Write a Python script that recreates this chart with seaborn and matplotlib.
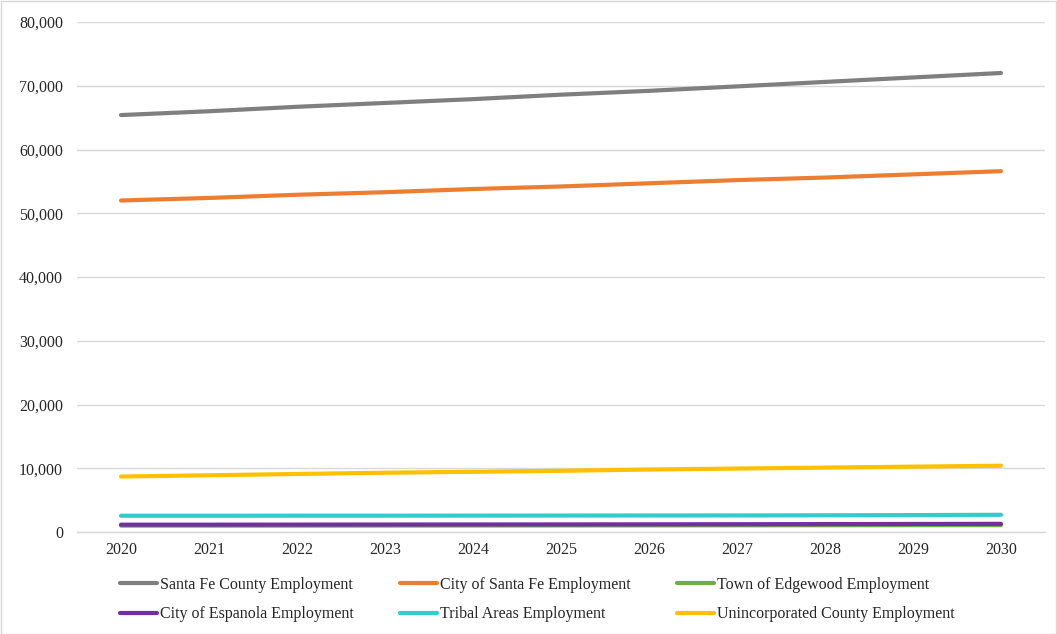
import matplotlib
matplotlib.use("Agg")
import matplotlib.pyplot as plt
import seaborn as sns
import pandas as pd
from matplotlib.patches import Rectangle

years = [2020, 2021, 2022, 2023, 2024, 2025, 2026, 2027, 2028, 2029, 2030]
santa_fe_county = [65400, 66000, 66700, 67300, 67900, 68600, 69200, 69900, 70600, 71300, 72000]
city_santa_fe = [52000, 52400, 52900, 53300, 53800, 54200, 54700, 55200, 55600, 56100, 56600]
edgewood = [1000, 1000, 1000, 1010, 1020, 1030, 1040, 1050, 1060, 1070, 1080]
espanola = [1150, 1150, 1160, 1170, 1180, 1190, 1200, 1220, 1240, 1260, 1280]
tribal = [2550, 2550, 2560, 2560, 2570, 2580, 2590, 2600, 2620, 2650, 2700]
unincorporated = [8700, 8900, 9100, 9300, 9450, 9600, 9800, 9950, 10100, 10250, 10400]

series_names = [
    "Santa Fe County Employment",
    "City of Santa Fe Employment",
    "Town of Edgewood Employment",
    "City of Espanola Employment",
    "Tribal Areas Employment",
    "Unincorporated County Employment",
]
series_values = [santa_fe_county, city_santa_fe, edgewood, espanola, tribal, unincorporated]
colors = ["#7f7f7f", "#ed7d31", "#70ad47", "#7030a0", "#33cccc", "#ffc000"]

rows = []
for name, vals in zip(series_names, series_values):
    for i, (yr, v) in enumerate(zip(years, vals)):
        rows.append({"idx": i, "year": str(yr), "value": v, "series": name})
df = pd.DataFrame(rows)

sns.set_theme(style="white")
plt.rcParams["font.family"] = ["Liberation Serif", "DejaVu Serif"]

fig = plt.figure(figsize=(10.57, 6.34), dpi=100)
ax = fig.add_axes([77/1057, 1-532/634, (1045-77)/1057, (532-22)/634])

sns.lineplot(data=df, x="idx", y="value", hue="series", hue_order=series_names,
             palette=colors, linewidth=3.0, ax=ax, legend=True, solid_capstyle="round")

ax.set_xlim(-0.5, len(years) - 0.5)
ax.set_ylim(0, 80000)
ax.set_yticks(range(0, 80001, 10000))
ax.set_yticklabels([f"{v:,}" for v in range(0, 80001, 10000)])
ax.set_xticks(range(len(years)))
ax.set_xticklabels([str(y) for y in years])
ax.set_xlabel("")
ax.set_ylabel("")
ax.grid(axis="y", color="#d9d9d9", linewidth=1.0)
ax.grid(axis="x", visible=False)
for s in ["top", "left", "right"]:
    ax.spines[s].set_visible(False)
ax.spines["bottom"].set_color("#d9d9d9")
ax.spines["bottom"].set_linewidth(1.0)
ax.tick_params(axis="y", length=0, pad=10, labelsize=11.5, labelcolor="#262626")
ax.tick_params(axis="x", length=0, pad=7, labelsize=11.5, labelcolor="#262626")

handles, labels = ax.get_legend_handles_labels()
ax.get_legend().remove()
order = [0, 3, 1, 4, 2, 5]
leg = fig.legend([handles[i] for i in order], [labels[i] for i in order], ncol=3,
                 loc="upper left",
                 bbox_to_anchor=(120/1057, 1-577/634), frameon=False,
                 borderpad=0, borderaxespad=0, handlelength=2.3, handletextpad=0.2,
                 columnspacing=2.9, labelspacing=0.82, fontsize=11.5)
for t in leg.get_texts():
    t.set_color("#262626")
for h in leg.get_lines():
    h.set_linewidth(3.0)

fig.patches.append(Rectangle((0.5/1057, 0.5/634), 1-1.5/1057, 1-1.5/634,
                             transform=fig.transFigure, fill=False,
                             edgecolor="#d9d9d9", linewidth=1.0))

fig.savefig("out.png", dpi=100)
